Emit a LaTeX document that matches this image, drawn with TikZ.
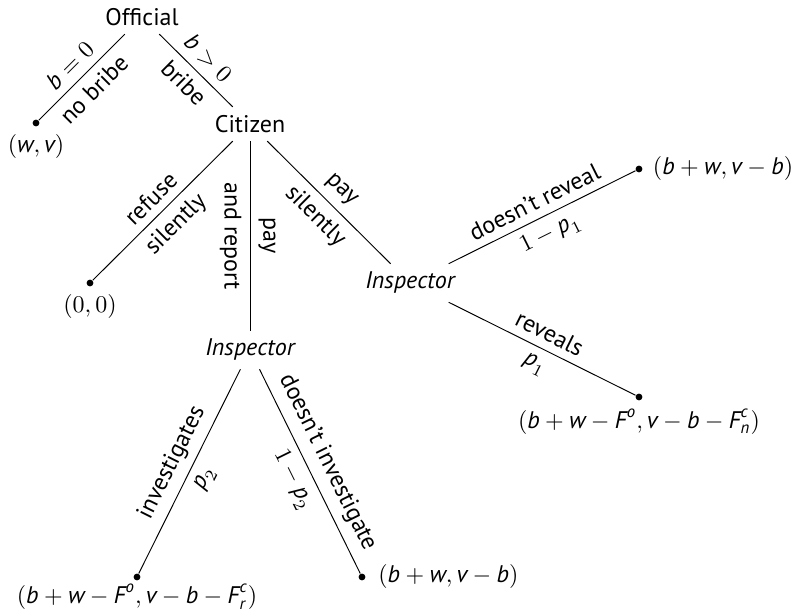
\documentclass[tikz,border=0pt]{standalone}
\usepackage{amsmath}
\usepackage{fontspec}
\setmainfont{PT Sans}
\usetikzlibrary{positioning}
\newcommand{\mv}[1]{\textit{#1}}
\tikzset{%
  % Specifications for style of nodes:
  player/.style = {align=center},
  chance/.style = {player, font=\itshape},
  leaf/.style = {circle, fill, inner sep=0pt, minimum size=1mm},
  payoff/.style = {inner sep=2pt},
  % Specifications for branches and their labels:
  branch/.style = {draw, black},
  upper/.style = {sloped, above},
  lower/.style = {sloped, below},
}

\begin{document}
\begin{tikzpicture}[
  x=0.4167pt, y=-0.4167pt,  % one unit is one pixel of the original
  node distance=1pt,        % payoffs sit close to their leaves
]
  \useasboundingbox (0,0) rectangle (794,613);
  % Decision nodes
  \node (official) [player] at (142,17)  {Official};
  \node (citizen)  [player] at (250,124) {Citizen};
  \node (insp1)    [chance] at (410,283) {Inspector};
  \node (insp2)    [chance] at (250,350) {Inspector};

  % Terminal nodes
  \node (nobribe)  [leaf] at (36,123)  {};
  \node (refuse)   [leaf] at (90,283)  {};
  \node (hidden)   [leaf] at (639,169) {};
  \node (revealed) [leaf] at (639,397) {};
  \node (caught)   [leaf] at (137,577) {};
  \node (missed)   [leaf] at (362,577) {};

  % Payoffs
  \node (u1) [payoff, below=of nobribe]  {$(\mv{w},\mv{v})$};
  \node (u2) [payoff, below=of refuse]   {$(0,0)$};
  \node (u3) [payoff, right=2pt of hidden] {$(\mv{b}+\mv{w},\mv{v}-\mv{b})$};
  \node (u4) [payoff, below=of revealed] {$(\mv{b}+\mv{w}-\mv{F}^{\mv{o}},\mv{v}-\mv{b}-\mv{F}^{\mv{c}}_{\mv{n}})$};
  \node (u5) [payoff, below=-1pt of caught] {$(\mv{b}+\mv{w}-\mv{F}^{\mv{o}},\mv{v}-\mv{b}-\mv{F}^{\mv{c}}_{\mv{r}})$};
  \node (u6) [payoff, right=3pt of missed] {$(\mv{b}+\mv{w},\mv{v}-\mv{b})$};

  % Branches
  \draw [branch] (official) -- node [upper] {$\mv{b}=0$} node [lower] {no bribe} (nobribe);
  \draw [branch] (official) -- node [upper] {$\mv{b}>0$} node [lower] {bribe} (citizen);

  \draw [branch] (citizen) -- node [upper] {refuse} node [lower] {silently} (refuse);
  \draw [branch] (citizen) -- node [upper, allow upside down] {pay}
                              node [lower, allow upside down] {and report} (insp2);
  \draw [branch] (citizen) -- node [upper] {pay} node [lower] {silently} (insp1);

  \draw [branch] (insp1) -- node [upper] {doesn't reveal} node [lower] {$1-\mv{p}_1$} (hidden);
  \draw [branch] (insp1) -- node [upper] {reveals} node [lower] {$\mv{p}_1$} (revealed);

  \draw [branch] (insp2) -- node [upper] {investigates} node [lower] {$\mv{p}_2$} (caught);
  \draw [branch] (insp2) -- node [upper] {doesn't investigate} node [lower] {$1-\mv{p}_2$} (missed);
\end{tikzpicture}
\end{document}
